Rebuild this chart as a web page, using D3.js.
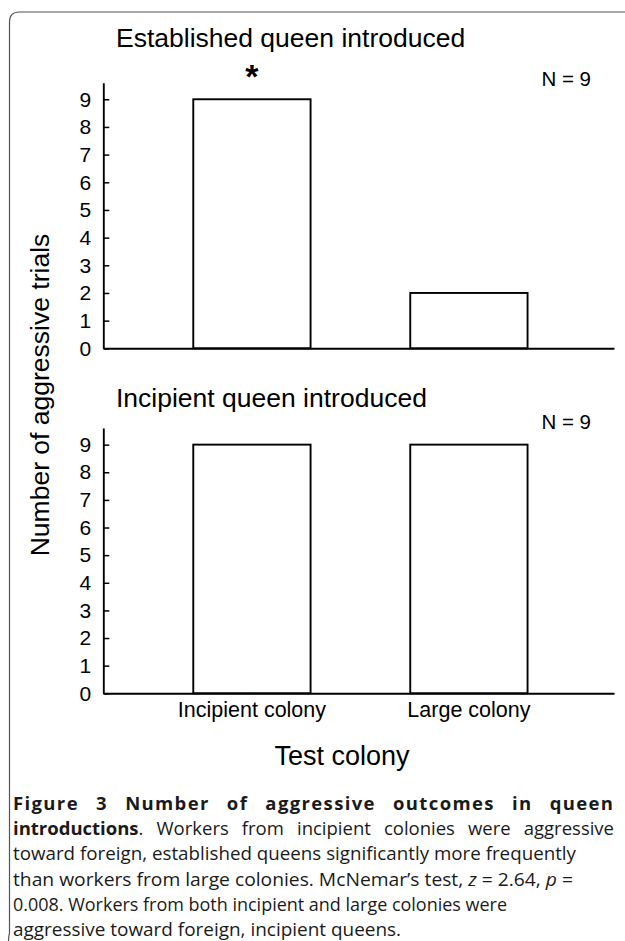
<!DOCTYPE html>
<html><head><meta charset="utf-8">
<script src="https://cdn.jsdelivr.net/npm/d3@7/dist/d3.min.js"></script>
<style>body{margin:0;background:#fff}svg{display:block}</style>
</head><body>
<script>
// ---------- data ----------
const categories = ["Incipient colony", "Large colony"];
const establishedValues = [9, 2];
const incipientValues = [9, 9];
const significance = ["*", ""];
const panelTitles = ["Established queen introduced", "Incipient queen introduced"];
const sampleSizes = ["N = 9", "N = 9"];
const yTickValues = [0, 1, 2, 3, 4, 5, 6, 7, 8, 9];
const yAxisTitle = "Number of aggressive trials";
const xAxisTitle = "Test colony";
const captionLines = [
  [{t: "Figure 3 Number of aggressive outcomes in queen", b: true}],
  [{t: "introductions", b: true}, {t: ". Workers from incipient colonies were aggressive"}],
  [{t: "toward foreign, established queens significantly more frequently"}],
  [{t: "than workers from large colonies. McNemar\u2019s test, "}, {t: "z", i: true}, {t: " = 2.64, "}, {t: "p", i: true}, {t: " ="}],
  [{t: "0.008. Workers from both incipient and large colonies were"}],
  [{t: "aggressive toward foreign, incipient queens."}]
];

// ---------- layout ----------
const W = 625, H = 941;
const chartFont = "'Liberation Sans', Arial, sans-serif";
const capFont = "'Open Sans', 'Noto Sans', sans-serif";
const svg = d3.select("body").append("svg").attr("width", W).attr("height", H);

// frame
svg.append("path")
  .attr("d", "M8.5,941 Q8.5,937 9.5,933 L9.5,22 Q9.5,12 19.5,12 L625,12")
  .attr("fill", "none").attr("stroke", "#555").attr("stroke-width", 1.2);

const x = d3.scaleBand().domain(categories).range([103.3, 614])
  .paddingInner(0.4594).paddingOuter(0.4065).align(0.51);

const panels = [
  {values: establishedValues, zeroY: 348.3, unit: 27.67, titleY: 47, nY: 86, labels: false},
  {values: incipientValues, zeroY: 693.3, unit: 27.63, titleY: 407, nY: 429, labels: true}
];

panels.forEach((p, pi) => {
  const y = d3.scaleLinear().domain([0, 9.6]).range([p.zeroY, p.zeroY - 9.6 * p.unit]);
  const g = svg.append("g");

  // bars
  g.selectAll("rect.bar").data(p.values).join("rect")
    .attr("class", "bar")
    .attr("x", (d, i) => x(categories[i]))
    .attr("width", x.bandwidth())
    .attr("y", d => y(d))
    .attr("height", d => y(0) - y(d))
    .attr("fill", "#fff").attr("stroke", "#000").attr("stroke-width", 1.9);

  // y axis
  const ya = g.append("g").attr("transform", `translate(${x.range()[0]},0)`)
    .call(d3.axisLeft(y).tickValues(yTickValues).tickFormat(d3.format("d"))
      .tickSize(-6).tickSizeOuter(0).tickPadding(12));
  ya.select(".domain").attr("stroke", "#000").attr("stroke-width", 1.9);
  ya.selectAll(".tick line").attr("stroke", "#000").attr("stroke-width", 1.5);
  ya.selectAll(".tick text").attr("font-family", chartFont).attr("font-size", 21).attr("fill", "#000");

  // x axis
  const xa = g.append("g").attr("transform", `translate(0,${p.zeroY})`)
    .call(d3.axisBottom(x).tickSize(0).tickSizeOuter(0).tickPadding(8)
      .tickFormat(p.labels ? (d => d) : () => ""));
  xa.select(".domain").attr("stroke", "#000").attr("stroke-width", 1.9);
  xa.selectAll(".tick text").attr("font-family", chartFont).attr("font-size", 21.5).attr("fill", "#000");

  // significance markers
  g.selectAll("text.sig").data(significance).join("text")
    .attr("class", "sig")
    .attr("x", (d, i) => x(categories[i]) + x.bandwidth() / 2)
    .attr("y", (d, i) => y(p.values[i]) - 11)
    .attr("text-anchor", "middle")
    .attr("font-family", chartFont).attr("font-weight", "bold").attr("font-size", 34)
    .text(d => pi === 0 ? d : "");

  // panel title
  g.append("text").attr("x", 116).attr("y", p.titleY)
    .attr("font-family", chartFont).attr("font-size", 26.5).attr("fill", "#000")
    .text(panelTitles[pi]);

  // N
  g.append("text").attr("x", 591).attr("y", p.nY).attr("text-anchor", "end")
    .attr("font-family", chartFont).attr("font-size", 20.5).attr("fill", "#000")
    .text(sampleSizes[pi]);
});

// axis titles
svg.append("text")
  .attr("transform", "translate(49,395) rotate(-90)")
  .attr("text-anchor", "middle")
  .attr("font-family", chartFont).attr("font-size", 26.5).attr("fill", "#000")
  .text(yAxisTitle);

svg.append("text")
  .attr("x", 342).attr("y", 765).attr("text-anchor", "middle")
  .attr("font-family", chartFont).attr("font-size", 27).attr("fill", "#000")
  .text(xAxisTitle);

// caption
const capWidths = [600, 601, 563, 560, 494, 388];
const capJustify = [true, true, false, false, false, false];
captionLines.forEach((line, li) => {
  const t = svg.append("text")
    .attr("x", 13).attr("y", 810 + li * 25.2)
    .attr("font-family", capFont).attr("font-size", 18.5).attr("fill", "#1a1a1a");
  line.forEach(seg => {
    t.append("tspan")
      .attr("font-weight", seg.b ? "bold" : null)
      .attr("font-style", seg.i ? "italic" : null)
      .text(seg.t);
  });
  const natural = t.node().getComputedTextLength();
  const str = line.map(s => s.t).join("");
  if (capJustify[li] && capWidths[li] > natural) {
    const spaces = str.split(" ").length - 1;
    const extra = capWidths[li] - natural;
    const share = li === 0 ? 0.45 : 0.0;
    t.attr("letter-spacing", extra * share / (str.length - 1));
    t.attr("word-spacing", extra * (1 - share) / spaces);
  } else {
    t.attr("textLength", capWidths[li]).attr("lengthAdjust", "spacingAndGlyphs");
  }
});
</script>
</body></html>
